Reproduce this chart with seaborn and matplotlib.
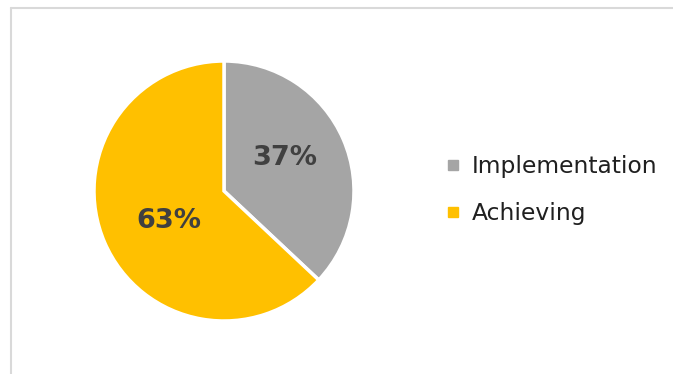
import matplotlib
matplotlib.use("Agg")
import matplotlib.pyplot as plt
from matplotlib.lines import Line2D
import numpy as np
import seaborn as sns

categories = ["Implementation", "Achieving"]
shares = [37, 63]
colors = ["#A5A5A5", "#FFC000"]

sns.set_theme(style="white")
plt.rcParams["font.family"] = ["DejaVu Sans"]

W, H = 673, 374
fig = plt.figure(figsize=(W / 100, H / 100), dpi=100)

# light frame on the left and top
fig.add_artist(Line2D([11.5 / W, 11.5 / W], [0, 1 - 7.5 / H], transform=fig.transFigure,
                      color="#D9D9D9", lw=1.5))
fig.add_artist(Line2D([11.5 / W, 1], [1 - 7.5 / H, 1 - 7.5 / H], transform=fig.transFigure,
                      color="#D9D9D9", lw=1.5))

cx, cy, r = 224, 191, 130
ax = fig.add_axes([(cx - r) / W, (H - cy - r) / H, 2 * r / W, 2 * r / H])

wedges, texts, autotexts = ax.pie(
    shares, colors=colors, startangle=90, counterclock=False,
    autopct="%1.0f%%", pctdistance=0.52,
    wedgeprops=dict(edgecolor="white", linewidth=2.5),
    textprops=dict(color="#404040", fontsize=19.5, fontweight="bold"),
)
# label placement: distance from the centre per slice, slight turn off the mid-angle
label_dist = [0.53, 0.485]
for w, t, d in zip(wedges, autotexts, label_dist):
    mid = np.deg2rad((w.theta1 + w.theta2) / 2 + 5.5)
    t.set_position((d * np.cos(mid), d * np.sin(mid)))

ax.set_xlim(-1.0, 1.0)
ax.set_ylim(-1.0, 1.0)
ax.set_aspect("equal")
ax.axis("off")

handles = [Line2D([], [], marker="s", linestyle="none", markersize=7,
                  markerfacecolor=c, markeredgecolor=c) for c in colors]
fig.legend(handles, categories, loc="center left",
           bbox_to_anchor=(425 / W, 1 - 190 / H), frameon=False,
           fontsize=16.8, handlelength=0.6, handletextpad=0.52,
           labelspacing=1.0, labelcolor="#202020")

fig.savefig("out.png", dpi=100, facecolor="white")
